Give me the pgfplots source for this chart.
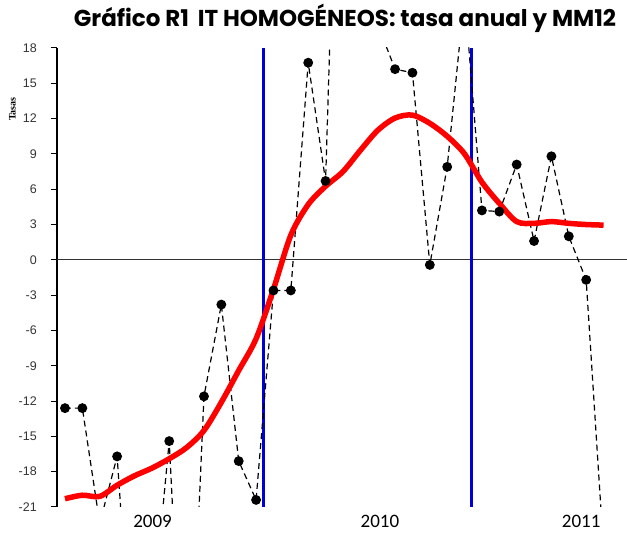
\documentclass[border=0pt]{standalone}
\usepackage{pgfplots}
\pgfplotsset{compat=1.18}
\usepackage{pgfplotstable}
\usepackage{fontspec}
\setmainfont{Liberation Sans}
\newfontfamily\titlefont{Poppins}
\newfontfamily\yearfont{Carlito}
\newfontfamily\serifface{Liberation Serif}

\pgfplotstableread{
x y
0 -12.6
1 -12.6
2 -22.4
3 -16.7
4 -38
5 -31
6 -15.4
7 -45
8 -11.6
9 -3.8
10 -17.1
11 -20.4
12 -2.6
13 -2.6
14 16.75
15 6.7
16 55
17 40
18 20
19 16.2
20 15.9
21 -0.43
22 7.9
23 22.5
24 4.2
25 4.1
26 8.1
27 1.6
28 8.8
29 2.0
30 -1.7
31 -24.6
}\tasa

\pgfplotstableread{
x y
0 -20.3
1 -20.0
2 -20.1
3 -19.15
4 -18.35
5 -17.7
6 -16.9
7 -15.95
8 -14.5
9 -12.1
10 -9.4
11 -6.7
12 -2.5
13 2.1
14 4.7
15 6.25
16 7.5
17 9.3
18 11.0
19 12.05
20 12.3
21 11.6
22 10.5
23 9.0
24 6.6
25 4.8
26 3.25
27 3.1
28 3.25
29 3.1
30 3.0
31 2.95
}\mm

\begin{document}
\begin{tikzpicture}
\useasboundingbox (-57pt,-26pt) rectangle (570pt,507pt);
\begin{axis}[
  at={(0pt,0pt)}, anchor=south west,
  scale only axis, width=570pt, height=459pt,
  xmin=-0.46, xmax=32.35, ymin=-21, ymax=18,
  axis y line*=left, axis x line*=bottom,
  x axis line style={draw=none},
  y axis line style={-, black, line width=1.2pt},
  ytick={-21,-18,-15,-12,-9,-6,-3,0,3,6,9,12,15,18},
  yticklabels={-21,-18,-15,-12,-9,-6,-3,0,3,6,9,12,15,18},
  tick align=outside,
  major tick length=6pt,
  ytick style={black, line width=1pt},
  yticklabel style={font=\fontsize{12.5}{12.5}\selectfont, anchor=east, inner sep=0pt, xshift=-14pt, text=black!80},
  xtick={5.04,18.13,29.71},
  xticklabels={2009,2010,2011},
  xtick style={draw=none},
  xticklabel style={font=\yearfont\fontsize{19}{19}\selectfont, anchor=base, inner sep=0pt, yshift=-15pt},
]
\addplot [black!80, line width=1.3pt, forget plot] coordinates {(-0.46,0) (32.35,0)};
\addplot [blue!85!black, line width=2.8pt] coordinates {(11.42,-21) (11.42,18)};
\addplot [blue!85!black, line width=2.8pt] coordinates {(23.41,-21) (23.41,18)};
\addplot [black, line width=1.2pt, dash pattern=on 6pt off 4pt, mark=*, mark size=4.3pt, mark options={solid, fill=black}] table {\tasa};
\addplot [red, line width=5.5pt, smooth, tension=0.5] table {\mm};
\end{axis}
\node[font=\titlefont\bfseries\fontsize{23}{23}\selectfont, anchor=center] at (288pt,489pt) {Gráfico R1\, IT HOMOGÉNEOS: tasa anual y MM12};
\node[font=\serifface\bfseries\fontsize{10}{10}\selectfont, rotate=90, anchor=center] at (-44.5pt,398pt) {Tasas};
\end{tikzpicture}
\end{document}
